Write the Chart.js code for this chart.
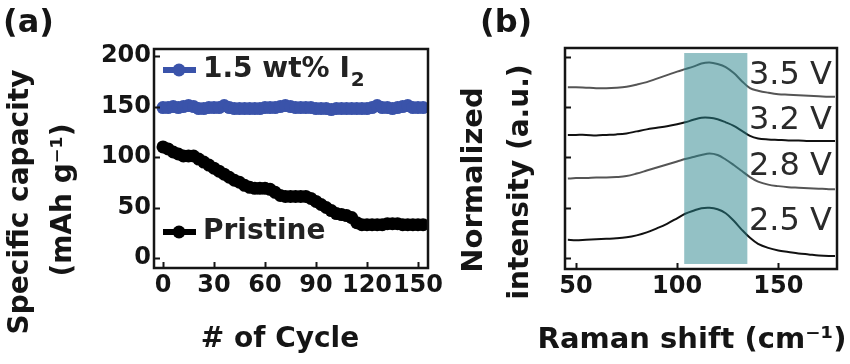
<!DOCTYPE html>
<html><head><meta charset="utf-8">
<script src="https://cdn.jsdelivr.net/npm/chart.js@4/dist/chart.umd.min.js"></script>
<style>
html,body{margin:0;padding:0;background:#fff;}
#wrap{position:relative;width:850px;height:364px;overflow:hidden;background:#fff;}
#chartA{position:absolute;left:0;top:0;}
#chartB{position:absolute;left:430px;top:0;}
</style></head><body>
<div id="wrap">
<canvas id="chartA" width="450" height="364"></canvas>
<canvas id="chartB" width="420" height="364"></canvas>
</div>
<script>
// ---------- Panel (a) data ----------
const cycles = [0,3,6,9,12,15,18,21,24,27,30,33,36,39,42,45,48,51,54,57,60,63,66,69,72,75,78,81,84,87,90,93,96,99,102,105,108,111,114,117,120,123,126,129,132,135,138,141,144,147,150,153];
const iodineCapacity = [149,149,150,149,150,151,150,148,148,149,149,149,151,149,148,148,148,148,148,148,149,149,149,150,151,150,149,149,149,149,148,148,148,147,148,148,148,148,148,148,148,149,151,149,149,148,149,150,151,149,149,149];
const pristineCapacity = [110,108,105,103,101,101,101,98,95,92,89,86,83,80,77,75,72,70,69,69,69,68,65,62,61,61,61,61,61,59,56,53,50,47,44,43,42,40,35,33,33,33,33,33,34,34,34,33,33,33,33,33];
const seriesNamesA = ['1.5 wt% I', 'Pristine'];
const cycleTicks = [0,30,60,90,120,150];
const capacityTicks = [0,50,100,150,200];

// ---------- Panel (b) data ----------
const ramanShift = [46,50,55,60,65,70,75,80,85,90,95,100,104,108,112,116,120,124,128,132,136,140,145,150,155,160,165,170,175,178];
const int35 = [3.40,3.40,3.39,3.38,3.38,3.39,3.41,3.45,3.50,3.57,3.64,3.71,3.76,3.81,3.87,3.89,3.86,3.80,3.68,3.52,3.38,3.33,3.29,3.26,3.25,3.24,3.23,3.22,3.21,3.21];
const int32 = [2.45,2.45,2.45,2.44,2.45,2.46,2.48,2.52,2.56,2.59,2.62,2.66,2.70,2.75,2.79,2.79,2.76,2.70,2.63,2.53,2.43,2.38,2.36,2.35,2.34,2.34,2.33,2.33,2.33,2.33];
const int28 = [1.58,1.59,1.59,1.60,1.60,1.61,1.63,1.68,1.74,1.80,1.86,1.92,1.97,2.01,2.05,2.08,2.05,1.96,1.85,1.73,1.61,1.52,1.46,1.43,1.41,1.40,1.39,1.38,1.37,1.37];
const int25 = [0.36,0.35,0.36,0.37,0.38,0.39,0.41,0.45,0.51,0.59,0.68,0.79,0.88,0.94,0.99,1.00,0.97,0.89,0.74,0.56,0.40,0.28,0.20,0.15,0.12,0.09,0.07,0.05,0.04,0.04];
const voltageLabels = ['3.5 V','3.2 V','2.8 V','2.5 V'];
const ramanTicks = [50,100,150];
const intensityTicks = [0,1,2,3,4];
const bandShift = [103.5, 134.7];
const bandIntensity = [-0.12, 4.08];
// annotation anchors (data coordinates)
const labelShift = 135.5;
const labelIntensity = [3.62, 2.73, 1.81, 0.73];

const FONT = '"DejaVu Sans", sans-serif';
const BLUE = '#3a53aa';
const INK = '#151515';

function frameAndTicks(chart, xt, yt) {
  const {ctx, chartArea: a, scales: {x, y}} = chart;
  ctx.save();
  ctx.strokeStyle = INK;
  ctx.lineWidth = 2;
  xt.forEach(v => { const p = Math.round(x.getPixelForValue(v)) + 0.5; ctx.beginPath(); ctx.moveTo(p, a.bottom); ctx.lineTo(p, a.bottom - 6); ctx.stroke(); });
  yt.forEach(v => { const p = Math.round(y.getPixelForValue(v)) + 0.5; ctx.beginPath(); ctx.moveTo(a.left, p); ctx.lineTo(a.left + 6, p); ctx.stroke(); });
  ctx.lineWidth = 2.5;
  ctx.strokeRect(a.left, a.top, a.right - a.left, a.bottom - a.top);
  ctx.restore();
}
function vText(ctx, str, cx, cy, font) {
  ctx.save();
  ctx.translate(cx, cy);
  ctx.rotate(-Math.PI / 2);
  ctx.font = font;
  ctx.textAlign = 'center';
  ctx.textBaseline = 'middle';
  ctx.fillText(str, 0, 0);
  ctx.restore();
}

const pluginA = {
  id: 'decorA',
  afterDraw(chart) {
    const ctx = chart.ctx;
    frameAndTicks(chart, cycleTicks, capacityTicks);
    ctx.save();
    ctx.fillStyle = INK;
    ctx.font = 'bold 32px ' + FONT;
    ctx.textAlign = 'left'; ctx.textBaseline = 'middle';
    ctx.fillText('(a)', 3, 24);
    vText(ctx, 'Specific capacity', 21, 202, 'bold 28px ' + FONT);
    vText(ctx, '(mAh g\u207B\u00B9)', 64, 200, 'bold 28px ' + FONT);
    ctx.font = 'bold 28px ' + FONT;
    ctx.textAlign = 'center';
    ctx.fillText('# of Cycle', 280, 340);
    // legend
    const items = [{c: BLUE, y: 70, t: seriesNamesA[0], sub: '2'}, {c: '#000', y: 232, t: seriesNamesA[1]}];
    items.forEach(it => {
      ctx.strokeStyle = it.c; ctx.fillStyle = it.c; ctx.lineWidth = 6;
      ctx.beginPath(); ctx.moveTo(163, it.y); ctx.lineTo(196, it.y); ctx.stroke();
      ctx.beginPath(); ctx.arc(179, it.y, 6.5, 0, Math.PI * 2); ctx.fill();
      ctx.fillStyle = '#222';
      ctx.font = 'bold 28px ' + FONT;
      ctx.textAlign = 'left'; ctx.textBaseline = 'middle';
      ctx.fillText(it.t, 203, it.y);
      if (it.sub) {
        const w = ctx.measureText(it.t).width;
        ctx.font = 'bold 20px ' + FONT;
        ctx.fillText(it.sub, 203 + w + 1, it.y + 11);
      }
    });
    ctx.restore();
  }
};

const pluginB = {
  id: 'decorB',
  afterDatasetsDraw(chart) {
    const {ctx, scales: {x, y}} = chart;
    const x0 = x.getPixelForValue(bandShift[0]), x1 = x.getPixelForValue(bandShift[1]);
    const y0 = y.getPixelForValue(bandIntensity[1]), y1 = y.getPixelForValue(bandIntensity[0]);
    ctx.save();
    ctx.fillStyle = 'rgba(40,132,140,0.5)';
    ctx.fillRect(x0, y0, x1 - x0, y1 - y0);
    ctx.restore();
  },
  afterDraw(chart) {
    const {ctx, scales: {x, y}} = chart;
    frameAndTicks(chart, ramanTicks, intensityTicks);
    ctx.save();
    ctx.fillStyle = INK;
    ctx.font = 'bold 32px ' + FONT;
    ctx.textAlign = 'left'; ctx.textBaseline = 'middle';
    ctx.fillText('(b)', 50, 24);
    vText(ctx, 'Normalized', 44, 180, 'bold 29px ' + FONT);
    vText(ctx, 'intensity (a.u.)', 91, 182, 'bold 28px ' + FONT);
    ctx.font = 'bold 29px ' + FONT;
    ctx.textAlign = 'center';
    ctx.fillText('Raman shift (cm\u207B\u00B9)', 262, 340);
    ctx.font = '32px ' + FONT;
    ctx.fillStyle = '#2a2a2a';
    ctx.textAlign = 'left';
    voltageLabels.forEach((t, i) => {
      ctx.fillText(t, x.getPixelForValue(labelShift), y.getPixelForValue(labelIntensity[i]));
    });
    ctx.restore();
  }
};

function axis(min, max, ticks, opts) {
  return Object.assign({
    type: 'linear', min, max,
    grid: {display: false, drawTicks: false},
    border: {display: false},
    afterBuildTicks: s => { s.ticks = ticks.map(v => ({value: v})); },
    ticks: {autoSkip: false, maxRotation: 0, minRotation: 0, color: INK,
      font: {family: FONT, size: 24, weight: 'bold'}}
  }, opts);
}

const common = {
  responsive: false, animation: false, devicePixelRatio: 1,
  plugins: {legend: {display: false}, tooltip: {enabled: false}}
};

new Chart(document.getElementById('chartA'), {
  type: 'line',
  data: {
    datasets: [
      {label: seriesNamesA[0] + '\u2082', data: cycles.map((c, i) => ({x: c, y: iodineCapacity[i]})),
       borderColor: BLUE, backgroundColor: BLUE, borderWidth: 6, pointRadius: 6.5, pointBorderWidth: 0},
      {label: seriesNamesA[1], data: cycles.map((c, i) => ({x: c, y: pristineCapacity[i]})),
       borderColor: '#000', backgroundColor: '#000', borderWidth: 6, pointRadius: 6.5, pointBorderWidth: 0}
    ]
  },
  options: Object.assign({}, common, {
    layout: {padding: {left: 0, right: 22, top: 49, bottom: 0}},
    scales: {
      x: axis(-5.3, 155.9, cycleTicks, {afterFit: s => { s.height = 96; }}),
      y: axis(-9.9, 207, capacityTicks, {afterFit: s => { s.width = 154; }})
    }
  }),
  plugins: [pluginA]
});
new Chart(document.getElementById('chartB'), {
  type: 'line',
  data: {
    datasets: [
      {label: voltageLabels[0], data: ramanShift.map((r, i) => ({x: r, y: int35[i]})), borderColor: '#555', borderWidth: 2, pointRadius: 0, tension: 0.35},
      {label: voltageLabels[1], data: ramanShift.map((r, i) => ({x: r, y: int32[i]})), borderColor: '#111', borderWidth: 2, pointRadius: 0, tension: 0.35},
      {label: voltageLabels[2], data: ramanShift.map((r, i) => ({x: r, y: int28[i]})), borderColor: '#555', borderWidth: 2, pointRadius: 0, tension: 0.35},
      {label: voltageLabels[3], data: ramanShift.map((r, i) => ({x: r, y: int25[i]})), borderColor: '#111', borderWidth: 2, pointRadius: 0, tension: 0.35}
    ]
  },
  options: Object.assign({}, common, {
    layout: {padding: {left: 0, right: 13, top: 48, bottom: 0}},
    scales: {
      x: axis(44.6, 179, ramanTicks, {afterFit: s => { s.height = 95; }}),
      y: axis(-0.22, 4.18, intensityTicks, {afterFit: s => { s.width = 135; }, ticks: {display: false}})
    }
  }),
  plugins: [pluginB]
});
</script>
</body></html>
